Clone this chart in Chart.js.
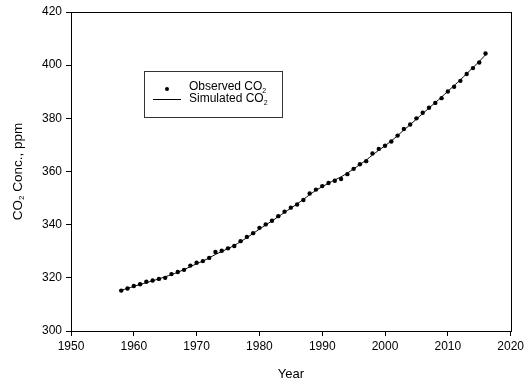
<!DOCTYPE html>
<html><head><meta charset="utf-8">
<script src="https://cdn.jsdelivr.net/npm/chart.js@4/dist/chart.umd.min.js"></script>
<style>html,body{margin:0;padding:0;background:#fff}#wrap{width:527px;height:386px}</style>
</head><body><div id="wrap"><canvas id="c" width="527" height="386"></canvas></div>
<script>
const years = [1958,1959,1960,1961,1962,1963,1964,1965,1966,1967,1968,1969,1970,1971,1972,1973,1974,1975,1976,1977,1978,1979,1980,1981,1982,1983,1984,1985,1986,1987,1988,1989,1990,1991,1992,1993,1994,1995,1996,1997,1998,1999,2000,2001,2002,2003,2004,2005,2006,2007,2008,2009,2010,2011,2012,2013,2014,2015,2016];
const observedCO2 = [315.2,316.0,316.9,317.6,318.5,319.0,319.6,320.0,321.4,322.2,323.0,324.6,325.7,326.3,327.5,329.7,330.2,331.1,332.0,333.8,335.4,336.8,338.8,340.1,341.5,343.2,344.9,346.4,347.6,349.3,351.7,353.2,354.5,355.7,356.5,357.2,359.0,361.0,362.7,363.9,366.8,368.5,369.7,371.3,373.5,376.0,377.7,380.0,382.1,384.0,385.8,387.6,390.1,391.9,394.1,396.7,398.9,401.0,404.4];
const simulatedCO2 = [315.3,316.0,316.8,317.5,318.2,318.9,319.6,320.4,321.2,322.1,323.1,324.2,325.3,326.3,327.5,328.8,329.9,331.0,332.2,333.6,335.1,336.7,338.3,339.9,341.4,343.0,344.6,346.2,347.8,349.5,351.3,352.9,354.3,355.6,356.8,358.0,359.4,361.0,362.6,364.3,366.2,368.0,369.7,371.5,373.5,375.6,377.6,379.7,381.8,383.9,385.9,388.0,390.2,392.3,394.5,396.8,399.1,401.4,403.9];
const xTicks = [1950,1960,1970,1980,1990,2000,2010,2020];
const yTicks = [300,320,340,360,380,400,420];

const FONT = '"Liberation Sans", Arial, sans-serif';

function drawSubText(ctx, parts, x, y, size) {
  let cx = x;
  for (const [t, sub] of parts) {
    ctx.font = (sub ? Math.round(size*0.62) : size) + 'px ' + FONT;
    ctx.fillText(t, cx, sub ? y + size*0.3 : y);
    cx += ctx.measureText(t).width;
  }
  return cx - x;
}
function measureParts(ctx, parts, size) {
  let w = 0;
  for (const [t, sub] of parts) {
    ctx.font = (sub ? Math.round(size*0.62) : size) + 'px ' + FONT;
    w += ctx.measureText(t).width;
  }
  return w;
}

const deco = {
  id: 'deco',
  afterDraw(chart) {
    const ctx = chart.ctx, a = chart.chartArea;
    ctx.save();
    ctx.strokeStyle = '#000'; ctx.lineWidth = 1;
    ctx.strokeRect(Math.round(a.left)+0.5, Math.round(a.top)+0.5, Math.round(a.right-a.left), Math.round(a.bottom-a.top));
    // legend
    const lx = 144, ly = 71, lw = 138, lh = 46;
    ctx.fillStyle = '#fff';
    ctx.fillRect(lx, ly, lw, lh);
    ctx.strokeStyle = '#333';
    ctx.strokeRect(lx+0.5, ly+0.5, lw, lh);
    ctx.fillStyle = '#000';
    ctx.beginPath(); ctx.arc(167, 89, 2, 0, Math.PI*2); ctx.fill();
    ctx.strokeStyle = '#000';
    ctx.beginPath(); ctx.moveTo(153, 99.5); ctx.lineTo(181, 99.5); ctx.stroke();
    ctx.textBaseline = 'middle'; ctx.textAlign = 'left';
    drawSubText(ctx, [['Observed CO', false], ['2', true]], 189, 87, 12);
    drawSubText(ctx, [['Simulated CO', false], ['2', true]], 189, 99, 12);
    // y title
    ctx.translate(18, (a.top + a.bottom)/2);
    ctx.rotate(-Math.PI/2);
    const parts = [['CO', false], ['2', true], [' Conc., ppm', false]];
    const w = measureParts(ctx, parts, 13.5);
    drawSubText(ctx, parts, -w/2, 0, 13.5);
    ctx.restore();
  }
};

new Chart(document.getElementById('c'), {
  type: 'scatter',
  data: {
    datasets: [
      {
        label: 'Observed CO2',
        data: years.map((y, i) => ({x: y, y: observedCO2[i]})),
        showLine: false,
        pointRadius: 2.2,
        pointBackgroundColor: '#000',
        pointBorderWidth: 0,
        borderColor: '#000'
      },
      {
        label: 'Simulated CO2',
        data: years.map((y, i) => ({x: y, y: simulatedCO2[i]})),
        showLine: true,
        pointRadius: 0,
        borderColor: '#000',
        borderWidth: 1,
        tension: 0.2
      }
    ]
  },
  options: {
    responsive: false,
    animation: false,
    devicePixelRatio: 1,
    layout: { padding: { left: 0, right: 14, top: 12, bottom: 0 } },
    plugins: { legend: { display: false }, tooltip: { enabled: false } },
    scales: {
      x: {
        type: 'linear', min: 1950, max: 2020,
        afterBuildTicks(s) { s.ticks = xTicks.map(v => ({value: v})); },
        afterFit(s) { s.height = 55; },
        grid: { drawOnChartArea: false, drawTicks: true, tickLength: 5, color: '#000' },
        border: { color: '#000' },
        ticks: { color: '#000', font: { family: FONT, size: 12 }, padding: 3, maxRotation: 0, callback: v => String(v) },
        title: { display: true, text: 'Year', color: '#000', font: { family: FONT, size: 13 }, padding: { top: 8 } }
      },
      y: {
        min: 300, max: 420,
        afterBuildTicks(s) { s.ticks = yTicks.map(v => ({value: v})); },
        afterFit(s) { s.width = 71; },
        grid: { drawOnChartArea: false, drawTicks: true, tickLength: 5, color: '#000' },
        border: { color: '#000' },
        ticks: { color: '#000', font: { family: FONT, size: 12 }, padding: 4, callback: v => String(v) }
      }
    }
  },
  plugins: [deco]
});
</script></body></html>
